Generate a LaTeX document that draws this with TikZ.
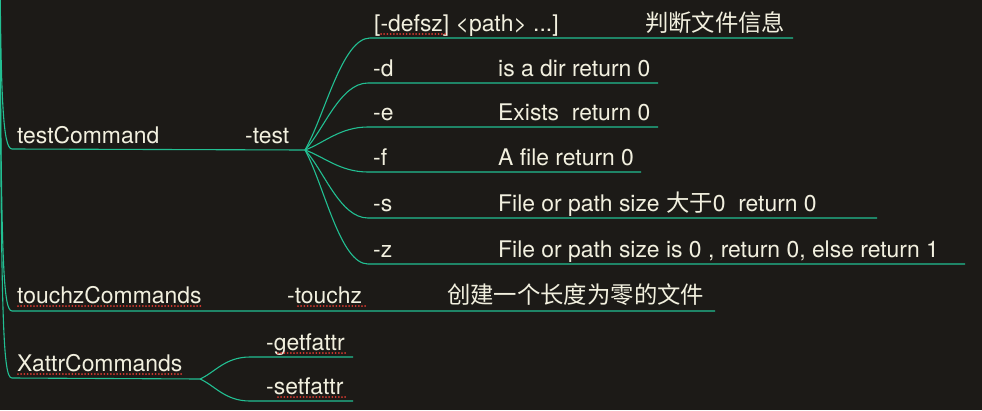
\documentclass[tikz,border=0pt]{standalone}
\usepackage{fontspec}
\setmainfont{TeX Gyre Heros}
\newfontfamily\cjk[Scale=1.02]{Noto Sans CJK SC}
\usetikzlibrary{calc}

\tikzset{
    txt/.style={anchor=base west, inner sep=0pt, text=textColour, font=\fontsize{22.9}{27}\selectfont},
    branch/.style={draw=lineColour, line width=1.1pt},
    typo/.style={draw=typoColour, line width=2pt, dash pattern=on 0pt off 3.2pt, line cap=round}
}

\begin{document}
\begin{tikzpicture}[x=1pt, y=-1pt]
    \definecolor{bgColour}{HTML}{1C1A17}
    \definecolor{lineColour}{HTML}{22BF92}
    \definecolor{textColour}{HTML}{F2F0DF}
    \definecolor{typoColour}{HTML}{D83A30}

    % Canvas
    \fill[bgColour] (0,0) rectangle (982,410);
    \useasboundingbox (0,0) rectangle (982,410);
    \clip (0,0) rectangle (982,410);

    % Define coordinates for the spine and the fans
    \coordinate (root) at (0,-30);
    \coordinate (test) at (305,150);
    \coordinate (touchzEnd) at (715,311);
    \coordinate (xattr) at (200,379);

    % Draw spine branches
    \draw[branch] (root) .. controls (1,99) and (3,149) .. (12,149) -- (test);
    \draw[branch] (root) .. controls (1,261) and (3,311) .. (12,311) -- (touchzEnd);
    \draw[branch] (root) .. controls (1,328) and (3,378) .. (12,378) -- (xattr);

    % testCommand
    \node[txt] (testCmd) at (17,143) {testCommand};
    \node[txt] (testOpt) at (245,143) {-test};

    % Usage line of -test
    \coordinate (usage0) at (370,38);
    \coordinate (usage1) at (793,38);
    \draw[branch] (test) .. controls ($(test)!0.3!(usage0)$) and ($(usage0)+(-28,0)$) .. (usage0) -- (usage1);
    \node[txt] (usage) at (374,31) {[-defsz] \textless path\textgreater{} ...]};
    \node[txt] (usageNote) at (645,31) {\cjk 判断文件信息};

    % Options of -test
    \foreach \opt/\yy/\desc/\xend in {d/83/{is a dir return 0}/658,
                                      e/127/{Exists\ \ return 0}/658,
                                      f/172/{A file return 0}/641,
                                      s/218/{File or path size {\cjk 大于}0\ \ return 0}/877,
                                      z/264/{File or path size is 0 , return 0, else return 1}/965} {
        \coordinate (\opt0) at (368,\yy);
        \coordinate (\opt1) at (\xend,\yy);
        \draw[branch] (test) .. controls ($(test)!0.3!(\opt0)$) and ($(\opt0)+(-28,0)$) .. (\opt0) -- (\opt1);
        \node[txt] (\opt Flag) at (373,\yy-7) {-\opt};
        \node[txt] (\opt Desc) at (498,\yy-7) {\desc};
    }

    % touchzCommands
    \node[txt] (touchzCmd) at (17,303) {touchzCommands};
    \node[txt] (touchzOpt) at (287,303) {-touchz};
    \node[txt] (touchzNote) at (447,303) {\cjk 创建一个长度为零的文件};

    % XattrCommands
    \coordinate (get0) at (250,357);
    \coordinate (get1) at (353,357);
    \coordinate (set0) at (250,401);
    \coordinate (set1) at (353,401);
    \draw[branch] (xattr) .. controls ($(xattr)!0.3!(get0)$) and ($(get0)+(-25,0)$) .. (get0) -- (get1);
    \draw[branch] (xattr) .. controls ($(xattr)!0.3!(set0)$) and ($(set0)+(-25,0)$) .. (set0) -- (set1);
    \node[txt] (xattrCmd) at (17,371) {XattrCommands};
    \node[txt] (getOpt) at (266,350) {-getfattr};
    \node[txt] (setOpt) at (266,394) {-setfattr};

    % Spell-check marks
    \draw[typo] (381,34) -- (446,34);
    \draw[typo] ($(touchzCmd.base west)+(1,3)$) -- ($(touchzCmd.base east)+(-1,3)$);
    \draw[typo] (298,306) -- (366,306);
    \draw[typo] ($(xattrCmd.base west)+(1,3)$) -- ($(xattrCmd.base east)+(-1,3)$);
    \draw[typo] (278,353) -- (347,353);
    \draw[typo] (278,397) -- (347,397);

\end{tikzpicture}
\end{document}
